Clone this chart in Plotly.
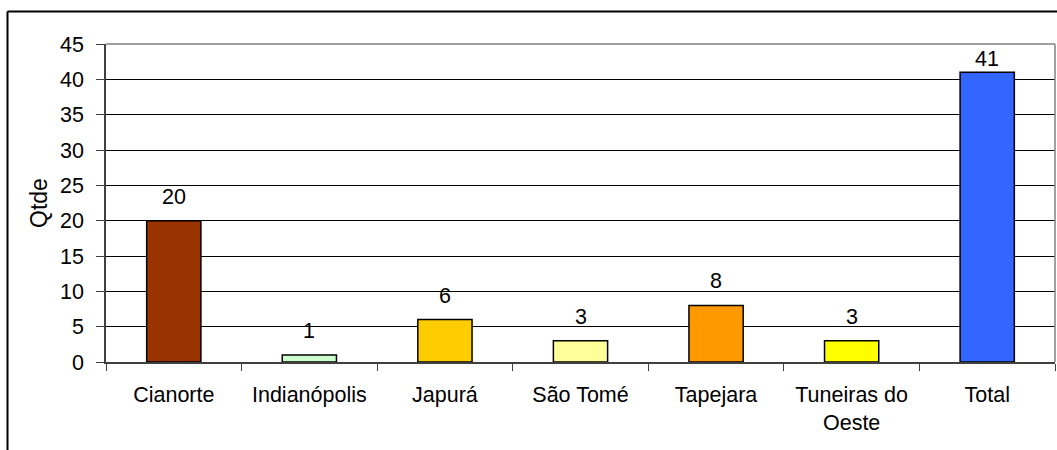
import plotly.graph_objects as go

categories = ["Cianorte", "Indianópolis", "Japurá", "São Tomé", "Tapejara", "Tuneiras do<br>Oeste", "Total"]
values = [20, 1, 6, 3, 8, 3, 41]
colors = ["#993300", "#CCFFCC", "#FFCC00", "#FFFF99", "#FF9900", "#FFFF00", "#3366FF"]
y_ticks = [0, 5, 10, 15, 20, 25, 30, 35, 40, 45]

FONT = "Liberation Sans, Arial, sans-serif"
FS = 21.5

ML, MR, MT, MB = 106, 2, 44, 88
W, H = 1057, 450
Y_MAX = 45
px_per_unit = (H - MT - MB) / Y_MAX

fig = go.Figure()
fig.add_trace(go.Bar(
    x=categories, y=values,
    marker=dict(color=colors, line=dict(color="#000000", width=1.5)),
    width=0.4,
    showlegend=False,
    hoverinfo="skip",
))

for c, v in zip(categories, values):
    room = (Y_MAX - v) * px_per_unit
    shift = min(10, room - 29)
    fig.add_annotation(x=c, y=v, text=str(v), showarrow=False,
                       yanchor="bottom", yshift=shift,
                       font=dict(family=FONT, size=FS, color="#000000"))

fig.update_layout(
    width=W, height=H,
    margin=dict(l=ML, r=MR, t=MT, b=MB),
    paper_bgcolor="#FFFFFF", plot_bgcolor="#FFFFFF",
    font=dict(family=FONT, size=FS, color="#000000"),
    bargap=0.6,
    xaxis=dict(
        type="category",
        tickson="boundaries",
        ticks="outside", ticklen=7, tickcolor="#404040", tickwidth=1,
        showline=True, linecolor="#404040", linewidth=1.5,
        showgrid=False, ticklabelstandoff=12,
        tickfont=dict(family=FONT, size=FS, color="#000000"),
    ),
    yaxis=dict(
        range=[0, Y_MAX], tickvals=y_ticks,
        ticks="outside", ticklen=8, tickcolor="#404040", tickwidth=1,
        showline=True, linecolor="#404040", linewidth=1.5,
        showgrid=True, gridcolor="#000000", gridwidth=1,
        zeroline=False, ticklabelstandoff=8,
        tickfont=dict(family=FONT, size=FS, color="#000000"),
        title=dict(text="Qtde", standoff=6, font=dict(family=FONT, size=23, color="#000000")),
    ),
)

# plot-area top/right border (gray)
fig.add_shape(type="line", xref="paper", yref="paper", x0=0, x1=1, y0=1, y1=1,
              line=dict(color="#808080", width=1.5), layer="above")
fig.add_shape(type="line", xref="paper", yref="paper", x0=1, x1=1, y0=0, y1=1,
              line=dict(color="#808080", width=1.5), layer="above")

# outer chart border (black), top and left visible
pw = W - ML - MR
ph = H - MT - MB
x_left = (7.5 - ML) / pw
y_top = 1 + (MT - 11.5) / ph
y_bot = 1 - (H - MT + 10) / ph
x_right = 1 + (MR + 10) / pw
fig.add_shape(type="line", xref="paper", yref="paper", x0=x_left, x1=x_right, y0=y_top, y1=y_top,
              line=dict(color="#000000", width=2), layer="above")
fig.add_shape(type="line", xref="paper", yref="paper", x0=x_left, x1=x_left, y0=y_bot, y1=y_top,
              line=dict(color="#000000", width=2), layer="above")

fig.write_html("out.html")
